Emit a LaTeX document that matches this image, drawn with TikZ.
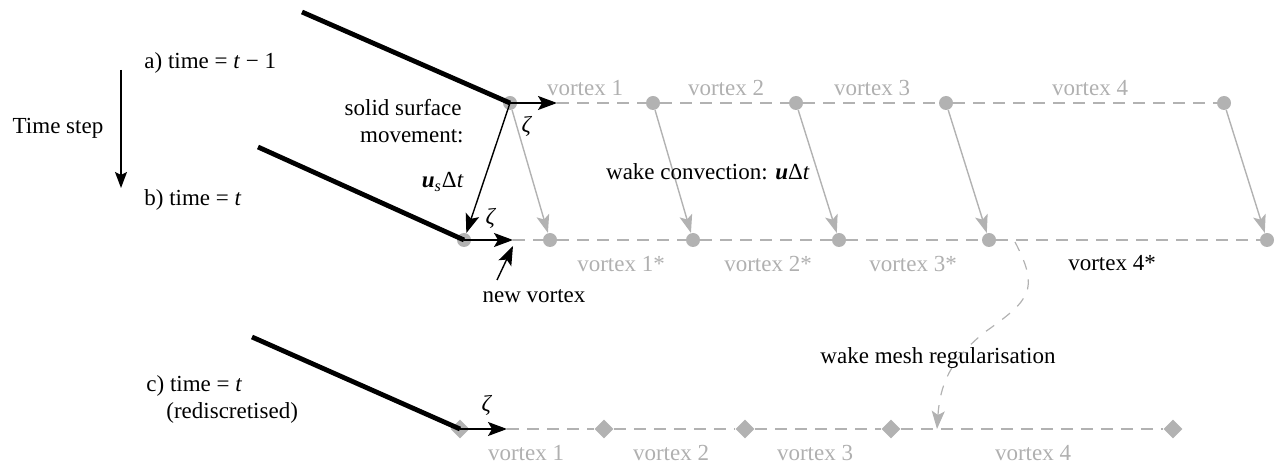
\documentclass[tikz,border=0pt]{standalone}
\usepackage{fontspec}
\setmainfont{Liberation Serif}
\usetikzlibrary{arrows.meta,shapes.geometric}

\definecolor{vgray}{RGB}{178,178,178}
\definecolor{tgray}{RGB}{176,176,176}

\newcommand{\ivar}[1]{\textit{#1}}
\newcommand{\bvec}[1]{\textbf{\textit{#1}}}

\tikzset{
  txt/.style = {font=\fontsize{11.5}{13.8}\selectfont, inner sep=1pt},
  gtxt/.style = {txt, text=tgray},
  vtx/.style = {circle, fill=vgray, inner sep=0pt, minimum size=7pt},
  vdia/.style = {diamond, fill=vgray, inner sep=0pt, minimum size=9.5pt},
  plate/.style = {line width=2.4pt},
  blk/.style = {-{Stealth[length=9.5pt,width=7pt,inset=2pt]}, line width=0.7pt},
  conv/.style = {-{Stealth[length=9pt,width=6.5pt,inset=2pt]}, vgray, line width=0.7pt},
  wake/.style = {vgray, line width=0.7pt, dash pattern=on 6pt off 4pt},
  reg/.style = {-{Stealth[length=9pt,width=6.5pt,inset=2pt]}, vgray, line width=0.6pt, dash pattern=on 5pt off 5pt}
}

\begin{document}
\begin{tikzpicture}[x=0.5pt, y=-0.5pt]
\useasboundingbox (0,0) rectangle (1284,464);

% time step arrow
\coordinate (ts1) at (121,70);
\coordinate (ts2) at (121,188);
\draw[-{Stealth[length=8pt,width=6pt,inset=1.5pt]}, line width=0.7pt] (ts1) -- (ts2);
\node[txt] (tstep) at (58,128) {Time step};

\node[txt, anchor=west] (ta) at (142,63) {a) time = \ivar{t} − 1};
\node[txt, anchor=west] (tb) at (142,200) {b) time = \ivar{t}};
\node[txt, anchor=west] (tc) at (144,386) {c) time = \ivar{t}};
\node[txt, anchor=west] (tc2) at (164,413) {(rediscretised)};

% a) time = t-1
\node[vtx] (a0) at (510,103) {};
\node[vtx] (a1) at (653,103) {};
\node[vtx] (a2) at (796,103) {};
\node[vtx] (a3) at (946,103) {};
\node[vtx] (a4) at (1224,103) {};
\coordinate (pa) at (302,12);
\coordinate (za) at (557,103);
\draw[plate] (pa) -- (a0.center);
\draw[wake] (za) -- (a1) -- (a2) -- (a3) -- (a4);
\draw[blk] (a0.center) -- (za);
\node[txt] (zetaa) at (527,126) {\ivar{ζ}};

\node[gtxt] (la1) at (585,88) {vortex 1};
\node[gtxt] (la2) at (726,88) {vortex 2};
\node[gtxt] (la3) at (872,88) {vortex 3};
\node[gtxt] (la4) at (1090,88) {vortex 4};

% b) time = t
\node[vtx] (b0) at (464,240) {};
\node[vtx] (b1) at (550,240) {};
\node[vtx] (b2) at (693,240) {};
\node[vtx] (b3) at (839,240) {};
\node[vtx] (b4) at (989,240) {};
\node[vtx] (b5) at (1267,240) {};
\coordinate (pb) at (258,147);
\coordinate (zb) at (513,240);
\draw[plate] (pb) -- (b0.center);
\draw[wake] (zb) -- (b1) -- (b2) -- (b3) -- (b4) -- (b5);
\draw[blk] (b0.center) -- (zb);
\node[txt] (zetab) at (491,218) {\ivar{ζ}};

\node[gtxt] (lb1) at (621,264) {vortex 1*};
\node[gtxt] (lb2) at (768,264) {vortex 2*};
\node[gtxt] (lb3) at (913,264) {vortex 3*};
\node[txt] (lb4) at (1112,263) {vortex 4*};

% wake convection
\draw[conv] (a0) -- (b1);
\draw[conv] (a1) -- (b2);
\draw[conv] (a2) -- (b3);
\draw[conv] (a3) -- (b4);
\draw[conv] (a4) -- (b5);
\node[txt] (wc) at (708,172) {wake convection: \bvec{u}Δ\ivar{t}};

% solid surface movement
\draw[blk] (a0.center) -- (b0);
\node[txt, anchor=east] (ss1) at (464,108) {solid surface};
\node[txt, anchor=east] (ss2) at (466,136) {movement:};
\node[txt, anchor=east] (ss3) at (466,182) {\bvec{u}\textsubscript{\ivar{s}}Δ\ivar{t}};

% new vortex
\node[txt] (nv) at (534,296) {new vortex};
\coordinate (nvt) at (497,280);
\draw[blk] (nvt) -- ([yshift=-3pt]zb);

% c) rediscretised
\node[vdia] (c0) at (460,429) {};
\node[vdia] (c1) at (604,429) {};
\node[vdia] (c2) at (745,429) {};
\node[vdia] (c3) at (891,429) {};
\node[vdia] (c4) at (1173,429) {};
\coordinate (pc) at (252,337);
\coordinate (zc) at (507,429);
\draw[plate] (pc) -- (c0.center);
\draw[wake] (zc) -- (c1) -- (c2) -- (c3) -- (c4);
\draw[blk] (c0.center) -- (zc);
\node[txt] (zetac) at (487,405) {\ivar{ζ}};

\node[gtxt] (lc1) at (526,453) {vortex 1};
\node[gtxt] (lc2) at (671,453) {vortex 2};
\node[gtxt] (lc3) at (815,453) {vortex 3};
\node[gtxt] (lc4) at (1033,453) {vortex 4};

% wake mesh regularisation
\coordinate (rs) at (1015,242);
\coordinate (re) at (937,429);
\draw[reg] (rs) .. controls (1040,290) and (1030,300) .. (985,332)
           .. controls (950,360) and (940,385) .. (re);
\node[txt] (wm) at (938,358) {wake mesh regularisation};

\end{tikzpicture}
\end{document}
